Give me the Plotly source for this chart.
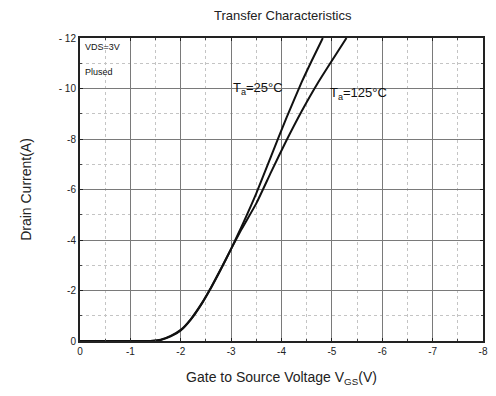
import plotly.graph_objects as go

# Transfer characteristics: drain current vs gate-source voltage (P-channel, VDS = 3 V, pulsed)
vgs_25 = [0, -1.0, -1.4, -1.6, -1.8, -2.0, -2.2, -2.4, -2.6, -2.8, -3.0, -3.2, -3.5, -3.8, -4.1, -4.4, -4.6, -4.82]
id_25 = [0, 0, 0, -0.04, -0.18, -0.42, -0.85, -1.42, -2.1, -2.85, -3.65, -4.5, -5.85, -7.35, -8.85, -10.25, -11.1, -12.0]

vgs_125 = [0, -1.0, -1.4, -1.6, -1.8, -2.0, -2.2, -2.4, -2.6, -2.8, -3.0, -3.2, -3.5, -3.8, -4.1, -4.4, -4.7, -5.0, -5.29]
id_125 = [0, 0, 0, -0.05, -0.2, -0.44, -0.87, -1.44, -2.12, -2.87, -3.65, -4.4, -5.45, -6.72, -7.95, -9.1, -10.15, -11.1, -12.0]

x_ticks = [0, -1, -2, -3, -4, -5, -6, -7, -8]
x_tick_text = ["0", "-1", "-2", "-3", "-4", "-5", "-6", "-7", "-8"]
y_ticks = [0, -2, -4, -6, -8, -10, -12]
y_tick_text = ["0", "-2", "-4", "-6", "-8", "- 10", "- 12"]

font_family = "Liberation Sans, Arial, sans-serif"
ink = "#111111"

fig = go.Figure()
for vx, iy in ((vgs_25, id_25), (vgs_125, id_125)):
    fig.add_trace(go.Scatter(
        x=vx, y=iy, mode="lines",
        line=dict(color=ink, width=2, shape="spline", smoothing=0.5),
        showlegend=False, hoverinfo="skip",
    ))

axis_common = dict(
    showline=True, linecolor="#222222", linewidth=2, mirror="allticks",
    ticks="inside", ticklen=3, tickcolor="#222222",
    showgrid=True, gridcolor="#7a7a7a", gridwidth=1.4,
    zeroline=False,
    tickfont=dict(family=font_family, size=10, color="#222222"),
)

fig.update_xaxes(
    range=[0, -8], tickvals=x_ticks, ticktext=x_tick_text,
    minor=dict(dtick=0.5, tick0=0, showgrid=True, gridcolor="#c4c4c4", griddash="dot", gridwidth=1,
               ticks="inside", ticklen=2, tickcolor="#444444"),
    title=dict(text="Gate to Source Voltage V<sub>GS</sub>(V)",
               font=dict(family=font_family, size=14, color="#222222"), standoff=16),
    **axis_common,
)
fig.update_yaxes(
    range=[0, -12], tickvals=y_ticks, ticktext=y_tick_text,
    minor=dict(dtick=1, tick0=0, showgrid=True, gridcolor="#c4c4c4", griddash="dot", gridwidth=1,
               ticks="inside", ticklen=2, tickcolor="#444444"),
    title=dict(text="Drain Current(A)",
               font=dict(family=font_family, size=14, color="#222222"), standoff=24),
    **axis_common,
)

annotations = [
    dict(x=-3.0, y=-10.0, text="T<sub>a</sub>=25°C", xanchor="left", yanchor="middle",
         font=dict(family=font_family, size=13, color=ink)),
    dict(x=-4.92, y=-9.8, text="T<sub>a</sub>=125°C", xanchor="left", yanchor="middle",
         font=dict(family=font_family, size=13, color=ink)),
    dict(x=-0.05, y=-11.65, text="VDS=3V", xanchor="left", yanchor="middle",
         font=dict(family=font_family, size=9, color=ink)),
    dict(x=-0.05, y=-10.65, text="Plused", xanchor="left", yanchor="middle",
         font=dict(family=font_family, size=9, color=ink)),
]
for a in annotations:
    a.update(xref="x", yref="y", showarrow=False, bgcolor="rgba(0,0,0,0)")
fig.update_layout(annotations=annotations)

fig.update_layout(
    width=496, height=396,
    margin=dict(l=80, r=8, t=38, b=55),
    paper_bgcolor="white", plot_bgcolor="white",
    title=dict(text="Transfer Characteristics", x=0.57, xanchor="center", y=0.962, yanchor="middle",
               font=dict(family=font_family, size=13, color="#222222")),
)

fig.write_html("out.html")
